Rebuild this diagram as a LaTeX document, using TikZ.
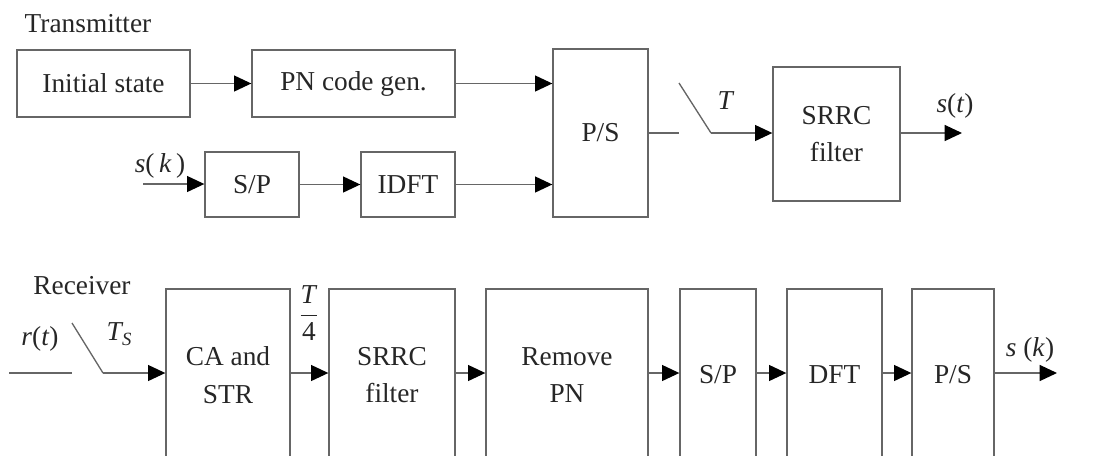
\documentclass[tikz,border=0pt]{standalone}
\usepackage{fontspec}
\setmainfont{Liberation Serif}
\usetikzlibrary{arrows.meta}
\begin{document}
\begin{tikzpicture}[x=0.75pt,y=-0.75pt,
  box/.style 2 args={draw=black!60,line width=1pt,inner sep=0pt,align=center,
     font=\fontsize{20.5}{23}\selectfont,text=black!85,
     minimum width={#1*0.75pt},minimum height={#2*0.75pt}},
  lbl/.style={font=\fontsize{20.5}{23}\selectfont,text=black!85,inner sep=0pt},
  conn/.style={draw=black!60,line width=1pt},
  arr/.style={conn,-{Triangle[length=13pt,width=12pt,fill=black,color=black]}}]
\useasboundingbox (0,0) rectangle (1097,455);
\clip (0,0) rectangle (1097,455);
% Transmitter
\node[lbl] (tx) at (88,24) {Transmitter};
\node[box={173}{67}] (init) at (103.5,83.5) {Initial state};
\node[box={203}{67}] (pn) at (353.5,83.5) {PN code gen.};
\node[box={95}{168}] (ps) at (600.5,133) {P/S};
\node[box={94}{65}] (sp) at (252,184.5) {S/P};
\node[box={94}{65}] (idft) at (408,184.5) {IDFT};
\node[box={127}{134}] (srrc) at (836.5,134) {SRRC\\[5pt]filter};
\coordinate (skin) at (143,184);
\coordinate (psout) at (679,133);
\coordinate (swtop) at (679,83);
\coordinate (swbot) at (711,133);
\coordinate (stout) at (962,133);
\draw[arr] (init.east) -- (pn.west);
\draw[arr] (pn.east) -- (pn.east -| ps.west);
\draw[arr] (skin) -- (skin -| sp.west);
\draw[arr] (sp.east) -- (idft.west);
\draw[arr] (idft.east) -- (idft.east -| ps.west);
\draw[conn] (ps.east |- psout) -- (psout);
\draw[conn] (swtop) -- (swbot);
\draw[arr] (swbot) -- (swbot -| srrc.west);
\draw[arr] (srrc.east |- stout) -- (stout);
\node[lbl] (lT) at (726,101) {\textit{T}};
\node[lbl] (lst) at (955,106) {\textit{s}(\textit{t})};
\node[lbl] (lsk) at (160,166) {\textit{s}(\,\textit{k}\,)};
% Receiver
\node[lbl] (rx) at (82,286) {Receiver};
\node[box={124}{172}] (ca) at (228,375) {CA and\\[5pt]STR};
\node[box={126}{172}] (srrc2) at (392,375) {SRRC\\[5pt]filter};
\node[box={162}{172}] (rpn) at (567,375) {Remove\\[5pt]PN};
\node[box={76}{172}] (sp2) at (718,375) {S/P};
\node[box={95}{172}] (dft) at (834.5,375) {DFT};
\node[box={82}{172}] (ps2) at (953,375) {P/S};
\coordinate (rin) at (9,373);
\coordinate (rsw) at (72,373);
\coordinate (rswtop) at (72,323);
\coordinate (rswbot) at (103,373);
\coordinate (skout) at (1057,373);
\draw[conn] (rin) -- (rsw);
\draw[conn] (rswtop) -- (rswbot);
\draw[arr] (rswbot) -- (rswbot -| ca.west);
\draw[arr] (ca.east |- rswbot) -- (srrc2.west |- rswbot);
\draw[arr] (srrc2.east |- rswbot) -- (rpn.west |- rswbot);
\draw[arr] (rpn.east |- rswbot) -- (sp2.west |- rswbot);
\draw[arr] (sp2.east |- rswbot) -- (dft.west |- rswbot);
\draw[arr] (dft.east |- rswbot) -- (ps2.west |- rswbot);
\draw[arr] (ps2.east |- skout) -- (skout);
\node[lbl] (lr) at (40,339) {\textit{r}(\textit{t})};
\node[lbl] (lts) at (119,334) {\textit{T}\kern-1pt\raisebox{-4pt}{\fontsize{14}{16}\selectfont\textit{S}}};
\node[lbl] (lt4) at (309,313) {$\displaystyle\frac{\hbox{\textit{T}}}{\hbox{4}}$};
\node[lbl] (lsk2) at (1030,350) {\textit{s} (\textit{k})};
\end{tikzpicture}
\end{document}
